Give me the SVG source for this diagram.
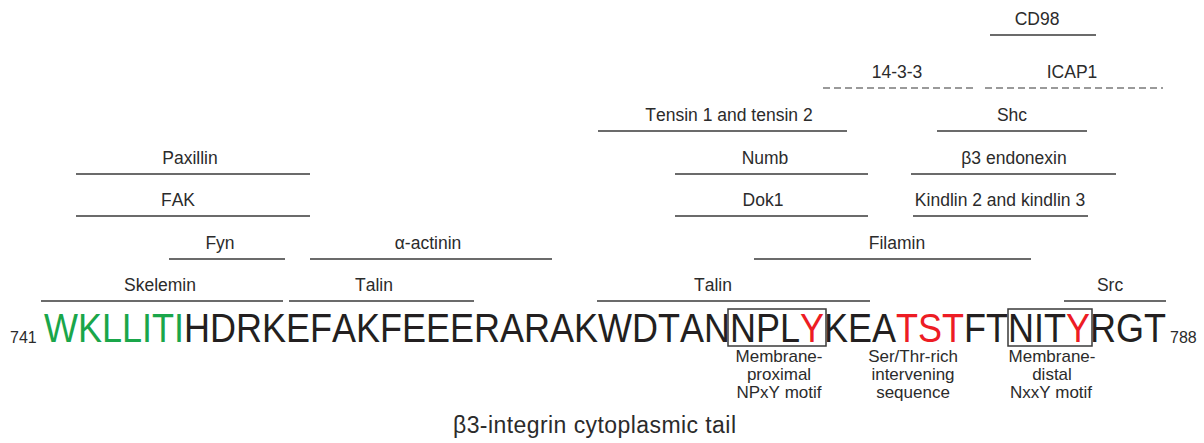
<svg xmlns="http://www.w3.org/2000/svg" width="1204" height="443" viewBox="0 0 1204 443">
<style>
text{font-family:"Liberation Sans",Arial,Helvetica,sans-serif;font-kerning:none;fill:#2b2b2b}
.lb{font-size:17.5px;text-anchor:middle}
.bl{stroke:#3a3a3a;stroke-width:1.6;fill:none}
.dl{stroke:#9a9a9a;stroke-width:2;stroke-dasharray:7 4;fill:none}
.seq{font-size:40px;fill:#231f20}
.g{fill:#1aa64a}
.r{fill:#ed1c24}
.num{font-size:16px}
.ann{font-size:17px;text-anchor:middle}
.box{fill:none;stroke:#3a3a3a;stroke-width:1.5}
</style>
<rect width="1204" height="443" fill="#fff"/>
<g id="partners">
<g id="cd98"><line class="bl" x1="990" y1="35" x2="1096" y2="35"/><text class="lb" x="1037" y="25">CD98</text></g>
<g id="p14-3-3"><line class="dl" x1="823" y1="88" x2="976" y2="88"/><text class="lb" x="897" y="78">14-3-3</text></g>
<g id="icap1"><line class="dl" x1="985" y1="88" x2="1163" y2="88"/><text class="lb" x="1072" y="78">ICAP1</text></g>
<g id="tensin"><line class="bl" x1="598" y1="131" x2="847" y2="131"/><text class="lb" x="729" y="121">Tensin 1 and tensin 2</text></g>
<g id="shc"><line class="bl" x1="937" y1="131" x2="1087" y2="131"/><text class="lb" x="1012" y="121">Shc</text></g>
<g id="paxillin"><line class="bl" x1="76" y1="174" x2="310" y2="174"/><text class="lb" x="190" y="164">Paxillin</text></g>
<g id="numb"><line class="bl" x1="675" y1="174" x2="868" y2="174"/><text class="lb" x="765" y="164">Numb</text></g>
<g id="endonexin"><line class="bl" x1="911" y1="174" x2="1116" y2="174"/><text class="lb" x="1014" y="164">β3 endonexin</text></g>
<g id="fak"><line class="bl" x1="76" y1="216" x2="310" y2="216"/><text class="lb" x="178" y="206">FAK</text></g>
<g id="dok1"><line class="bl" x1="675" y1="216" x2="868" y2="216"/><text class="lb" x="763" y="206">Dok1</text></g>
<g id="kindlin"><line class="bl" x1="913" y1="216" x2="1088" y2="216"/><text class="lb" x="1000" y="206">Kindlin 2 and kindlin 3</text></g>
<g id="fyn"><line class="bl" x1="169" y1="259" x2="285" y2="259"/><text class="lb" x="220" y="249">Fyn</text></g>
<g id="actinin"><line class="bl" x1="310" y1="259" x2="552" y2="259"/><text class="lb" x="428" y="249">α-actinin</text></g>
<g id="filamin"><line class="bl" x1="754" y1="259" x2="1031" y2="259"/><text class="lb" x="897" y="249">Filamin</text></g>
<g id="skelemin"><line class="bl" x1="41" y1="301" x2="283" y2="301"/><text class="lb" x="160" y="291">Skelemin</text></g>
<g id="talin1"><line class="bl" x1="289" y1="301" x2="474" y2="301"/><text class="lb" x="374" y="291">Talin</text></g>
<g id="talin2"><line class="bl" x1="597" y1="301" x2="870" y2="301"/><text class="lb" x="713" y="291">Talin</text></g>
<g id="src"><line class="bl" x1="1064" y1="301" x2="1166" y2="301"/><text class="lb" x="1110" y="291">Src</text></g>
</g>
<g id="sequence">
<text class="num" x="10" y="343">741</text>
<g transform="translate(44 342) scale(0.9 1)">
<text class="seq" x="0" y="0"><tspan class="g">WKLLITI</tspan>HDRKEFAKFEEERARAKWDTANNPL<tspan class="r">Y</tspan>KEA<tspan class="r">TST</tspan>FTNIT<tspan class="r">Y</tspan>RGT</text>
</g>
<text class="num" x="1170" y="343">788</text>
<rect id="npxy-box" class="box" x="728" y="309" width="98" height="37"/>
<rect id="nxxy-box" class="box" x="1008" y="309" width="84" height="37"/>
</g>
<g id="annotations">
<text class="ann" x="779" y="362">Membrane-</text>
<text class="ann" x="779" y="380">proximal</text>
<text class="ann" x="779" y="398">NPxY motif</text>
<text class="ann" x="913" y="362">Ser/Thr-rich</text>
<text class="ann" x="913" y="380">intervening</text>
<text class="ann" x="913" y="398">sequence</text>
<text class="ann" x="1052" y="362">Membrane-</text>
<text class="ann" x="1052" y="380">distal</text>
<text class="ann" x="1051" y="398">NxxY motif</text>
</g>
<text id="title" x="453" y="433" font-size="23" textLength="283" lengthAdjust="spacing">β3-integrin cytoplasmic tail</text>
</svg>
